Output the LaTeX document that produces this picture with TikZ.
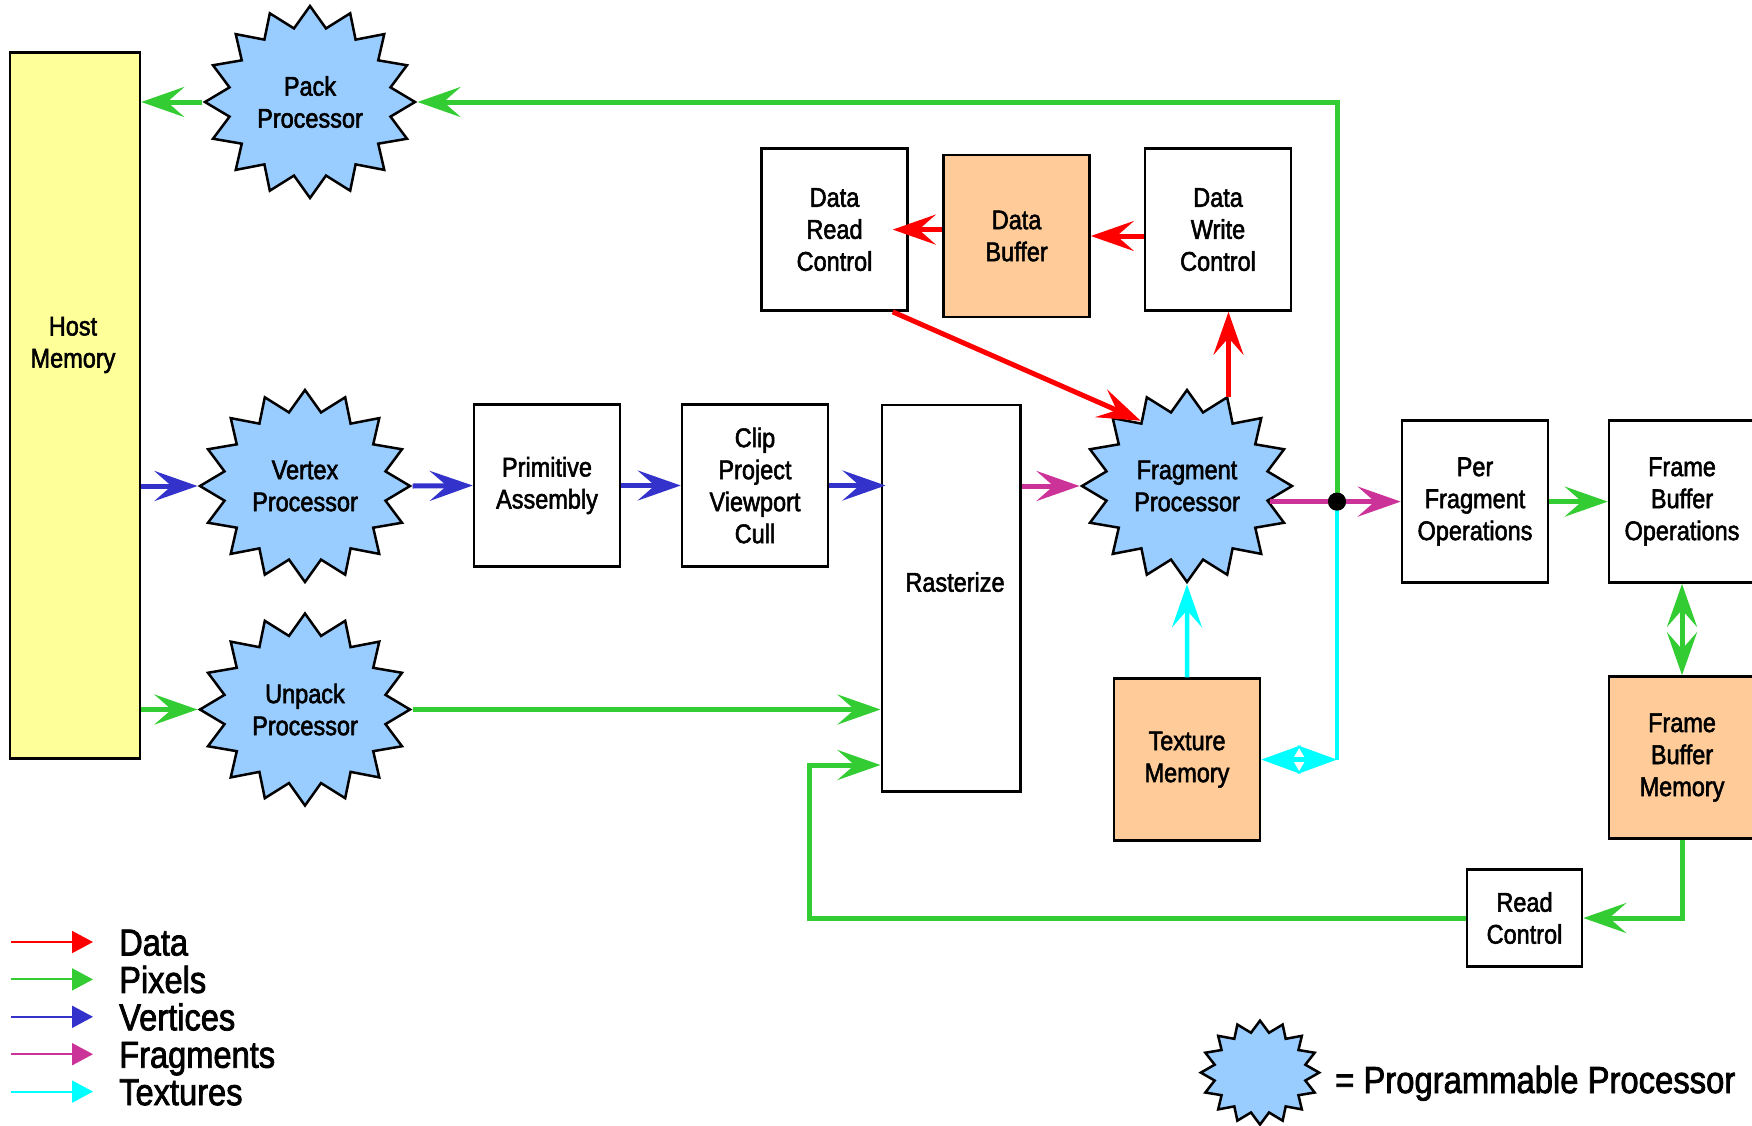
\documentclass[tikz,border=0pt]{standalone}
\usepackage{fontspec}
\setmainfont{Liberation Sans}[FakeStretch=0.87, FakeBold=2]
% processor labels are drawn inside a horizontally widened star, so their
% font is narrowed by the same factor
\newfontfamily\procfont{Liberation Sans}[FakeStretch=0.795, FakeBold=2]
\usetikzlibrary{shapes.geometric, arrows.meta, calc}

\definecolor{starblue}{RGB}{153,204,255}
\definecolor{hostyellow}{RGB}{255,255,153}
\definecolor{memorange}{RGB}{255,204,153}
\definecolor{pixgreen}{RGB}{51,204,51}
\definecolor{vertblue}{RGB}{51,51,204}
\definecolor{fragmag}{RGB}{204,51,153}
\definecolor{datared}{RGB}{255,0,0}
\definecolor{texcyan}{RGB}{0,255,255}

\begin{document}
\begin{tikzpicture}[x=1pt, y=-1pt,
  every node/.style={font=\fontsize{27pt}{32pt}\selectfont, align=center, inner sep=0pt},
  stage/.style={draw=black, line width=2.5pt, fill=white,
                minimum width=146pt, minimum height=162pt},
  memory/.style={stage, fill=memorange},
  proc/.style={star, star points=16, star point ratio=1.28, minimum size=192pt,
               xscale=1.094, draw=black, line width=2.5pt, fill=starblue,
               font=\procfont\fontsize{27pt}{32pt}\selectfont},
  bighead/.tip={Stealth[length=43pt, width=30pt, inset=17pt]},
  flow/.style={line width=5pt, -bighead},
  twoway/.style={line width=5pt, bighead-bighead},
  cyanhead/.tip={Stealth[length=39pt, width=28pt, inset=8pt]},
  keyarrow/.style={line width=2pt, -{Triangle[length=21pt, width=22pt]}},
  keytext/.style={font=\fontsize{37.5pt}{40pt}\selectfont, anchor=base west}
]
\useasboundingbox (0,0) rectangle (1752,1125);
\clip (0,0) rectangle (1752,1125);

% host side
\node[draw=black, line width=2.5pt, fill=hostyellow, minimum width=130pt,
      minimum height=706pt] (host) at (75,405.5) {};
\node (hosttext) at (73,345) {Host\\Memory};

% programmable processors
\node[proc] (pack) at (310,102) {Pack\\Processor};
\node[proc] (vp) at (305,486) {Vertex\\Processor};
\node[proc] (up) at (305,709.5) {Unpack\\Processor};
\node[proc] (fp) at (1187,486) {Fragment\\Processor};

% fixed-function stages
\node[stage] (pa) at (547,485.5) {Primitive\\Assembly};
\node[stage] (cl) at (755,485.5) {Clip\\Project\\Viewport\\Cull};
\node[stage, minimum width=138.5pt, minimum height=386.5pt] (ras) at (951,598) {};
\node (rastext) at (955,582) {Rasterize};
\node[stage] (drc) at (834.5,229.6) {Data\\Read\\Control};
\node[memory] (db) at (1016.6,236) {Data\\Buffer};
\node[stage] (dwc) at (1218,229.6) {Data\\Write\\Control};
\node[stage] (pfo) at (1475,501.6) {Per\\Fragment\\Operations};
\node[stage] (fbo) at (1682,501.6) {Frame\\Buffer\\Operations};
\node[memory] (fbm) at (1682,757.5) {Frame\\Buffer\\Memory};
\node[memory] (tm) at (1187,759.6) {Texture\\Memory};
\node[stage, minimum width=115pt, minimum height=97pt] (rc) at (1524.5,918) {Read\\Control};

\coordinate (rloop) at (809,765);
\node[circle, fill=black, minimum size=18pt] (jn) at (1337,501.6) {};

% vertices
\draw[flow, vertblue] (host.east |- vp.west) -- (vp.west);
\draw[flow, vertblue] (vp.east) -- (pa.west);
\draw[flow, vertblue] (pa.east) -- (cl.west);
\draw[flow, vertblue, shorten >=-5pt] (cl.east) -- (cl.east -| ras.west);

% fragments
\draw[flow, fragmag] (ras.east |- fp.west) -- (fp.west);
\draw[flow, fragmag] (fp.-11.25 |- pfo.west) -- (pfo.west);

% data
\draw[flow, datared] (fp.67.5) -- (fp.67.5 |- dwc.south);
\draw[flow, datared] (dwc.west |- db.east) -- (db.east);
\draw[flow, datared, shorten >=-16pt] (db.west |- drc.east) -- (drc.east);
\draw[flow, datared] ($(drc.south east)+(-16,0)$) -- (fp.123.75);

% pixels
\draw[flow, pixgreen] (pack.west) -- (host.east |- pack.west);
\draw[flow, pixgreen] (jn.center) -- (jn.center |- pack.east) -- (pack.east);
\draw[flow, pixgreen] (host.east |- up.west) -- (up.west);
\draw[flow, pixgreen] (up.east) -- (up.east -| ras.west);
\draw[flow, pixgreen] (rc.west) -| (rloop) -- (rloop -| ras.west);
\draw[flow, pixgreen] (fbm.south) -- (fbm.south |- rc.east) -- (rc.east);
\draw[flow, pixgreen] (pfo.east) -- (fbo.west);
\draw[twoway, pixgreen] (fbo.south) -- (fbm.north);

% textures
\draw[flow, texcyan, line width=4.5pt] (tm.north) -- (fp.south);
\draw[texcyan, line width=4pt] (jn.center) -- (jn.center |- tm.east);
\draw[texcyan, line width=5pt, cyanhead-cyanhead] (tm.east) -- (jn.center |- tm.east);

\node[circle, fill=black, minimum size=18pt] at (jn.center) {};

% key
\foreach \col/\name [count=\i from 0] in {datared/Data, pixgreen/Pixels,
    vertblue/Vertices, fragmag/Fragments, texcyan/Textures} {
  \coordinate (keyA\i) at (11,942+37.4*\i);
  \coordinate (keyB\i) at (93,942+37.4*\i);
  \draw[keyarrow, \col] (keyA\i) -- (keyB\i);
  \node[keytext] (key\i) at (119,955.5+37.4*\i) {\name};
}
\node[proc, minimum size=104pt, xscale=1.04] (keystar) at (1260,1072.6) {};
\node[keytext, font=\fontsize{37.7pt}{40pt}\selectfont] (keylabel) at (1335,1093)
  {= Programmable Processor};
\end{tikzpicture}
\end{document}
